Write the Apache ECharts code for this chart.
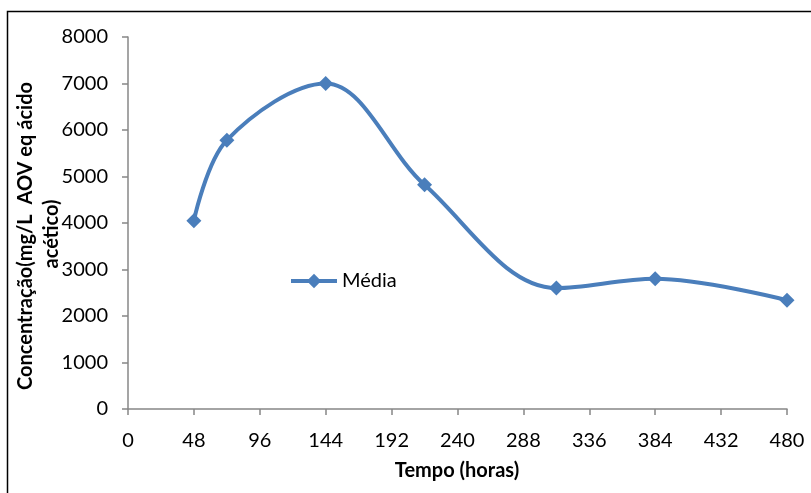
<!DOCTYPE html>
<html>
<head>
<meta charset="utf-8">
<script src="https://cdn.jsdelivr.net/npm/echarts@6/dist/echarts.min.js"></script>
<style>
  html, body { margin: 0; padding: 0; background: #fff; }
  #chart { width: 811px; height: 493px; }
</style>
</head>
<body>
<div id="chart"></div>
<script>
// Sampling times (hours) and mean concentration of volatile organic acids
const tempoHoras = [48, 72, 144, 216, 312, 384, 480];
const mediaConc = [4050, 5780, 7000, 4820, 2600, 2800, 2340];
const xTicks = [0, 48, 96, 144, 192, 240, 288, 336, 384, 432, 480];
const yTicks = [0, 1000, 2000, 3000, 4000, 5000, 6000, 7000, 8000];

const FONT = 'Lato, "Open Sans", sans-serif';
const AXIS_GRAY = '#878787';
const BLUE = '#4A7EBB';

const chart = echarts.init(document.getElementById('chart'));
chart.setOption({
  animation: false,
  backgroundColor: '#fff',
  grid: { left: 128, top: 37, right: 24, bottom: 84 },
  xAxis: {
    type: 'value',
    min: xTicks[0],
    max: xTicks[xTicks.length - 1],
    interval: 48,
    axisLine: { show: true, onZero: false, lineStyle: { color: AXIS_GRAY, width: 1.5 } },
    axisTick: { show: true, length: 6, inside: false, lineStyle: { color: AXIS_GRAY, width: 1.5 } },
    axisLabel: { color: '#000', fontSize: 20, fontFamily: FONT, margin: 22, formatter: v => String(v) },
    splitLine: { show: false }
  },
  yAxis: {
    type: 'value',
    min: yTicks[0],
    max: yTicks[yTicks.length - 1],
    interval: 1000,
    axisLine: { show: true, lineStyle: { color: AXIS_GRAY, width: 1.5 } },
    axisTick: { show: true, length: 6, inside: false, lineStyle: { color: AXIS_GRAY, width: 1.5 } },
    axisLabel: { color: '#000', fontSize: 20, fontFamily: FONT, margin: 20, formatter: v => String(v) },
    splitLine: { show: false }
  },
  legend: {
    left: 284,
    top: 266,
    itemWidth: 46,
    itemHeight: 18,
    itemGap: 6,
    lineStyle: { width: 4 },
    textStyle: { color: '#000', fontSize: 20, fontFamily: FONT },
    data: ['Média']
  },
  series: [{
    name: 'Média',
    type: 'line',
    data: tempoHoras.map((t, i) => [t, mediaConc[i]]),
    smooth: 0.35,
    symbol: 'diamond',
    symbolSize: 15,
    lineStyle: { color: BLUE, width: 4 },
    itemStyle: { color: BLUE }
  }],
  graphic: [
    {
      type: 'rect',
      shape: { x: 7.5, y: 11.5, width: 830, height: 500 },
      style: { fill: 'none', stroke: '#000', lineWidth: 1.5 },
      silent: true
    },
    {
      type: 'text',
      x: 26, y: 236,
      rotation: Math.PI / 2,
      style: {
        text: 'Concentração(mg/L  AOV eq ácido',
        font: 'bold 20px ' + FONT,
        fill: '#000',
        align: 'center',
        verticalAlign: 'middle'
      }
    },
    {
      type: 'text',
      x: 52, y: 234,
      rotation: Math.PI / 2,
      style: {
        text: 'acético)',
        font: 'bold 20px ' + FONT,
        fill: '#000',
        align: 'center',
        verticalAlign: 'middle'
      }
    },
    {
      type: 'text',
      x: 457, y: 471,
      style: {
        text: 'Tempo (horas)',
        font: 'bold 20px ' + FONT,
        fill: '#000',
        align: 'center',
        verticalAlign: 'middle'
      }
    }
  ]
});
</script>
</body>
</html>
